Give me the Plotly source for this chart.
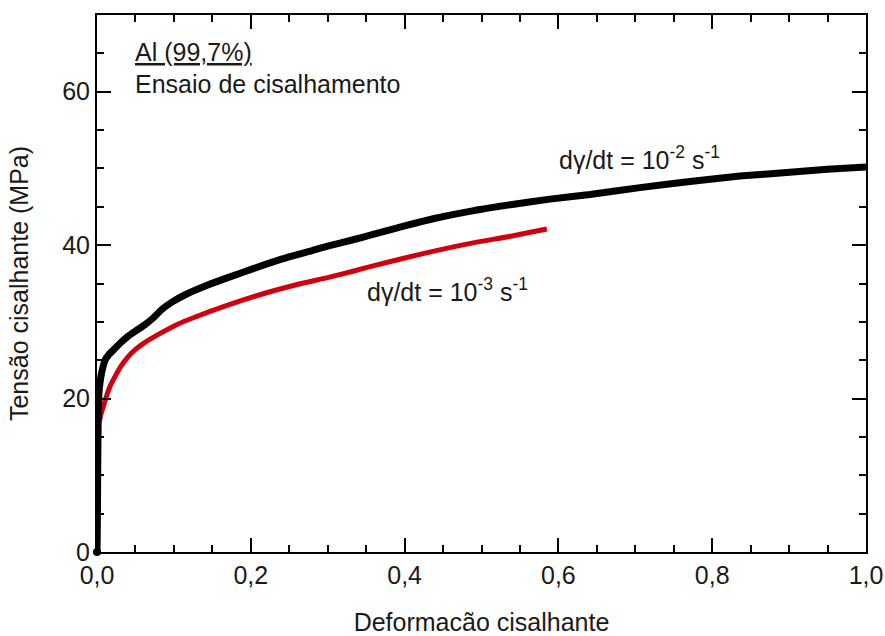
import plotly.graph_objects as go

# Black curve: dγ/dt = 10^-2 s^-1
strain_fast = [0.0, 0.0004, 0.0008, 0.0012, 0.0016, 0.002, 0.003, 0.005, 0.0075, 0.0104, 0.016, 0.023, 0.031, 0.040,
               0.050, 0.062, 0.073, 0.084, 0.098, 0.114, 0.144, 0.171, 0.205, 0.241, 0.280, 0.301,
               0.333, 0.359, 0.400, 0.440, 0.490, 0.540, 0.589, 0.641, 0.706, 0.771, 0.836, 0.901, 0.95, 1.0]
stress_fast = [0.0, 3.0, 9.0, 14.0, 17.5, 19.5, 21.3, 22.8, 24.0, 25.0, 25.8, 26.5, 27.3, 28.1,
               28.8, 29.6, 30.5, 31.6, 32.6, 33.5, 34.8, 35.8, 37.0, 38.2, 39.3, 39.9,
               40.7, 41.4, 42.5, 43.5, 44.5, 45.3, 46.0, 46.6, 47.5, 48.3, 49.0, 49.5, 49.9, 50.2]

# Red curve: dγ/dt = 10^-3 s^-1
strain_slow = [0.003, 0.005, 0.008, 0.012, 0.017, 0.023, 0.031, 0.040, 0.050, 0.062, 0.084, 0.105, 0.127,
               0.171, 0.214, 0.258, 0.301, 0.333, 0.359, 0.424, 0.489, 0.540, 0.585]
stress_slow = [17.0, 17.9, 18.9, 20.2, 21.6, 22.8, 24.2, 25.4, 26.4, 27.3, 28.6, 29.7, 30.6,
               32.2, 33.6, 34.8, 35.8, 36.6, 37.3, 38.9, 40.3, 41.2, 42.1]

x_ticks = [0.0, 0.2, 0.4, 0.6, 0.8, 1.0]
y_ticks = [0, 20, 40, 60]

FONT = "Liberation Sans, Arial, sans-serif"
TXT = "#1a1a1a"
FS = 25

fig = go.Figure()
fig.add_trace(go.Scatter(x=strain_slow, y=stress_slow, mode="lines",
                         line=dict(color="#d0000f", width=5, shape="spline", smoothing=0.6), showlegend=False))
fig.add_trace(go.Scatter(x=strain_fast, y=stress_fast, mode="lines",
                         line=dict(color="black", width=7, shape="spline", smoothing=0.6), showlegend=False))
fig.add_trace(go.Scatter(x=[strain_fast[0]], y=[stress_fast[0]], mode="markers",
                         marker=dict(color="black", size=8), showlegend=False, cliponaxis=False))

axis_common = dict(showline=True, linecolor="black", linewidth=2, mirror="ticks",
                   ticks="inside", ticklen=14, tickwidth=2, tickcolor="black",
                   showgrid=False, zeroline=False, automargin=False,
                   tickfont=dict(family=FONT, size=FS, color=TXT))

fig.update_xaxes(range=[0, 1.0], tickvals=x_ticks, tickformat=".1f",
                 minor=dict(dtick=0.05, tick0=0, ticks="inside", ticklen=7, tickwidth=2, tickcolor="black"),
                 title=dict(text="Deformacão cisalhante", font=dict(family=FONT, size=FS, color=TXT), standoff=39),
                 **axis_common)
fig.update_yaxes(range=[0, 70], tickvals=y_ticks,
                 minor=dict(dtick=5, tick0=0, ticks="inside", ticklen=7, tickwidth=2, tickcolor="black"),
                 title=dict(text="Tensão cisalhante (MPa)", font=dict(family=FONT, size=FS, color=TXT), standoff=26),
                 **axis_common)

fig.add_annotation(x=0.598, y=51.4, xref="x", yref="y", xanchor="left", yanchor="middle",
                   text="dγ/dt = 10<sup>-2</sup> s<sup>-1</sup>", showarrow=False,
                   font=dict(family=FONT, size=FS, color=TXT))
fig.add_annotation(x=0.349, y=34.1, xref="x", yref="y", xanchor="left", yanchor="middle",
                   text="dγ/dt = 10<sup>-3</sup> s<sup>-1</sup>", showarrow=False,
                   font=dict(family=FONT, size=FS, color=TXT))
fig.add_annotation(x=0.047, y=65.2, xref="x", yref="y", xanchor="left", yanchor="middle",
                   text="<u>Al (99,7%)</u>", showarrow=False,
                   font=dict(family=FONT, size=FS, color=TXT))
fig.add_annotation(x=0.047, y=61.0, xref="x", yref="y", xanchor="left", yanchor="middle",
                   text="Ensaio de cisalhamento", showarrow=False,
                   font=dict(family=FONT, size=FS, color=TXT))

fig.update_layout(width=885, height=636, margin=dict(l=97, r=19, t=15, b=84),
                  plot_bgcolor="white", paper_bgcolor="white", separators=",.",
                  font=dict(family=FONT))

fig.write_html("out.html", config={"displayModeBar": False},
               post_script="document.body.style.margin='0';document.body.style.overflow='hidden';")
